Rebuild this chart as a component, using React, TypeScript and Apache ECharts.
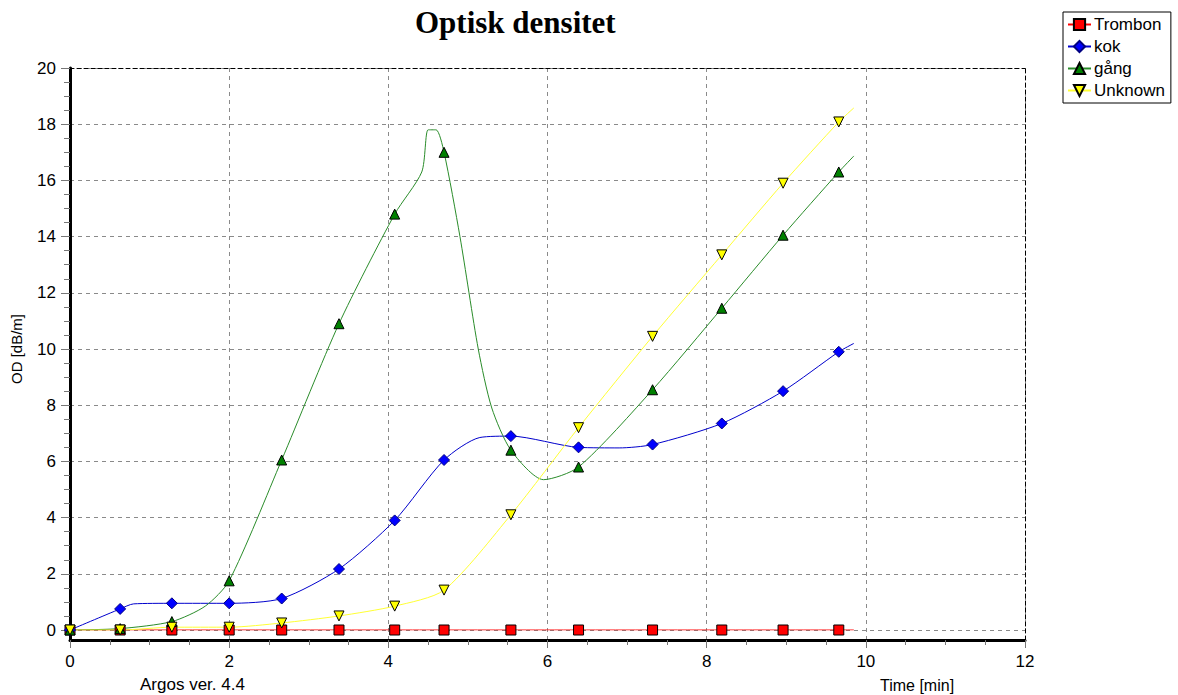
import React, { useEffect, useRef } from "react";
import * as echarts from "echarts";

// Sample times (min) at which the markers are drawn
const markTimes = [0, 0.63, 1.28, 2.0, 2.66, 3.38, 4.08, 4.7, 5.54, 6.39, 7.32, 8.19, 8.96, 9.66];

// Marker values (dB/m)
const trombonValues = [0, 0, 0, 0, 0, 0, 0, 0, 0, 0, 0, 0, 0, 0];
const kokValues = [0, 0.75, 0.95, 0.95, 1.12, 2.17, 3.9, 6.05, 6.9, 6.5, 6.6, 7.35, 8.5, 9.9];
const gangValues = [0, 0.05, 0.3, 1.75, 6.05, 10.9, 14.8, 17.0, 6.4, 5.8, 8.55, 11.45, 14.05, 16.3];
const unknownValues = [0, 0, 0.1, 0.1, 0.25, 0.5, 0.85, 1.42, 4.1, 7.2, 10.45, 13.35, 15.9, 18.08];

// Extra curve points (no marker)
const trombonCurveT = [9.85];
const trombonCurveV = [0];
const kokCurveT = [0.8, 5.15, 6.9, 9.85];
const kokCurveV = [0.93, 6.85, 6.48, 10.2];
const gangCurveT = [1.7, 4.42, 4.5, 4.6, 4.9, 5.13, 5.3, 5.95, 9.85];
const gangCurveV = [0.85, 16.3, 17.8, 17.8, 14.0, 10.0, 7.9, 5.35, 16.87];
const unknownCurveT = [9.85];
const unknownCurveV = [18.58];

const seriesNames = ["Trombon", "kok", "gång", "Unknown"];

const FONT = "'Liberation Sans', Arial, sans-serif";

function buildData(mv: number[], ct: number[], cv: number[]) {
  const pts: any[] = markTimes.map((t, i) => ({ value: [t, mv[i]] }));
  ct.forEach((t, i) => pts.push({ value: [t, cv[i]], symbol: "none" }));
  pts.sort((a, b) => a.value[0] - b.value[0]);
  return pts;
}

export default function App() {
  const ref = useRef<HTMLDivElement>(null);
  useEffect(() => {
    if (!ref.current) return;
    const chart = echarts.init(ref.current, null, { renderer: "svg" });
    const dashGrid = { color: "#8a8a8a", type: [4, 4] as any, width: 1 };
    const lineSeries = (
      name: string,
      data: any[],
      lineColor: string,
      fill: string,
      border: string,
      symbol: string,
      size: number | number[],
      rotate = 0
    ) => ({
      name,
      type: "line",
      xAxisIndex: 0,
      yAxisIndex: 0,
      data,
      smooth: 0.25,
      showAllSymbol: true,
      symbol,
      symbolSize: size,
      symbolRotate: rotate,
      lineStyle: { color: lineColor, width: 1 },
      itemStyle: { color: fill, borderColor: border, borderWidth: 1 },
      emphasis: { disabled: true },
      z: 3,
    });

    chart.setOption({
      animation: false,
      backgroundColor: "#ffffff",
      title: {
        text: "Optisk densitet",
        left: 410,
        top: 2,
        textStyle: {
          fontFamily: "'Liberation Serif', 'Times New Roman', serif",
          fontWeight: "bold",
          fontSize: 31,
          color: "#000",
        },
      },
      legend: {
        data: seriesNames,
        orient: "vertical",
        left: 1063,
        top: 12,
        itemWidth: 23,
        itemHeight: 14,
        itemGap: 5,
        padding: [4, 6, 4, 4],
        borderColor: "#000",
        borderWidth: 1,
        backgroundColor: "#fff",
        textStyle: { fontFamily: FONT, fontSize: 17, color: "#000", padding: [0, 0, 0, -2] },
      },
      grid: [
        { left: 70, right: 153, top: 68, bottom: 65, containLabel: false },
        { left: 70, right: 153, top: 68, bottom: 55, containLabel: false },
      ],
      xAxis: [
        {
          gridIndex: 0,
          type: "value",
          min: 0,
          max: 12,
          show: false,
        },
        {
          gridIndex: 1,
          type: "value",
          position: "bottom",
          min: 0,
          max: 12,
          interval: 2,
          axisLine: { show: true, onZero: false, lineStyle: { color: "#000", width: 3 } },
          axisTick: { show: true, length: 8, lineStyle: { color: "#777" } },
          minorTick: { show: true, splitNumber: 4, length: 5, lineStyle: { color: "#777" } },
          axisLabel: { fontFamily: FONT, fontSize: 17, color: "#000", margin: 13 },
          splitLine: { show: true, lineStyle: dashGrid },
        },
        {
          gridIndex: 1,
          type: "value",
          position: "top",
          min: 0,
          max: 12,
          axisLine: { show: true, onZero: false, lineStyle: { color: "#000", width: 1, type: [4, 3] } },
          axisTick: { show: false },
          axisLabel: { show: false },
          splitLine: { show: false },
        },
      ],
      yAxis: [
        {
          gridIndex: 0,
          type: "value",
          position: "left",
          min: 0,
          max: 20,
          interval: 2,
          name: "OD [dB/m]",
          nameLocation: "middle",
          nameGap: 46,
          nameRotate: 90,
          nameTextStyle: { fontFamily: FONT, fontSize: 15, color: "#000" },
          axisLine: { show: false, onZero: false },
          axisTick: { show: true, length: 9, lineStyle: { color: "#777" } },
          minorTick: { show: true, splitNumber: 4, length: 6, lineStyle: { color: "#777" } },
          axisLabel: { fontFamily: FONT, fontSize: 17, color: "#000", margin: 14 },
          splitLine: { show: true, lineStyle: dashGrid },
        },
        {
          gridIndex: 1,
          type: "value",
          position: "left",
          min: 0,
          max: 1,
          axisLine: { show: true, onZero: false, lineStyle: { color: "#000", width: 3 } },
          axisTick: { show: false },
          axisLabel: { show: false },
          splitLine: { show: false },
        },
        {
          gridIndex: 1,
          type: "value",
          position: "right",
          min: 0,
          max: 1,
          axisLine: { show: true, onZero: false, lineStyle: { color: "#000", width: 1, type: [4, 3] } },
          axisTick: { show: false },
          axisLabel: { show: false },
          splitLine: { show: false },
        },
      ],
      graphic: [
        {
          type: "text",
          left: 140,
          top: 676,
          style: { text: "Argos ver. 4.4", fontFamily: FONT, fontSize: 17, fill: "#000" },
        },
        {
          type: "text",
          left: 880,
          top: 677,
          style: { text: "Time [min]", fontFamily: FONT, fontSize: 16, fill: "#000" },
        },
      ],
      series: [
        lineSeries("Trombon", buildData(trombonValues, trombonCurveT, trombonCurveV), "#ff0000", "#ff0000", "#000", "rect", 10),
        lineSeries("kok", buildData(kokValues, kokCurveT, kokCurveV), "#0000cc", "#0000ff", "#000080", "diamond", 11),
        lineSeries("gång", buildData(gangValues, gangCurveT, gangCurveV), "#2a8c2a", "#008000", "#000", "triangle", 10),
        lineSeries("Unknown", buildData(unknownValues, unknownCurveT, unknownCurveV), "#ffff33", "#ffff00", "#000", "triangle", 10, 180),
      ],
    });
    return () => chart.dispose();
  }, []);
  return (
    <div
      ref={ref}
      style={{ position: "absolute", left: 0, top: 0, width: 1178, height: 695, background: "#fff" }}
    />
  );
}
